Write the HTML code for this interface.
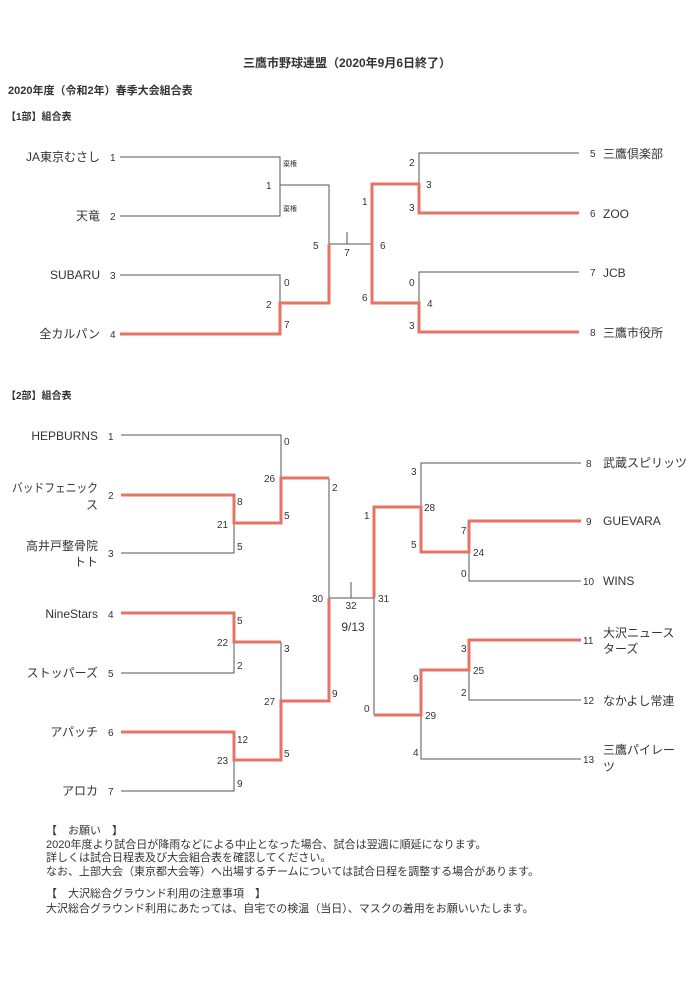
<!DOCTYPE html>
<html><head><meta charset="utf-8"><style>
html,body{margin:0;padding:0;background:#fff;}
svg{display:block}
text{font-family:"Liberation Sans","Noto Sans CJK JP",sans-serif;fill:#333;}
.t{font-size:12px}
.s{font-size:10px}
.b{font-size:11px}
</style></head><body>
<svg width="686" height="981" viewBox="0 0 686 981" xmlns="http://www.w3.org/2000/svg">
<text x="347" y="67" class="t" text-anchor="middle" font-weight="bold">三鷹市野球連盟（2020年9月6日終了）</text>
<text x="8" y="94" class="b" font-weight="bold">2020年度（令和2年）春季大会組合表</text>
<text x="6" y="120" class="s" font-weight="bold">【1部】組合表</text>

<g fill="none" stroke="#555" stroke-width="1">
<polyline points="120,157 280,157 280,216 120,216"/>
<polyline points="280,185 329,185 329,244 372,244"/>
<polyline points="120,275 280,275 280,303"/>
<line x1="347" y1="232" x2="347" y2="244"/>
<polyline points="579,153 419,153 419,184"/>
<polyline points="579,272 419,272 419,303"/>
<polyline points="121,435 281,435 281,478"/>
<polyline points="329,478 329,598 374,598"/>
<polyline points="234,523 234,553 121,553"/>
<polyline points="234,642 234,673 121,673"/>
<polyline points="281,642 281,701"/>
<polyline points="234,760 234,791 121,791"/>
<line x1="351" y1="582" x2="351" y2="598"/>
<polyline points="374,598 374,715"/>
<polyline points="581,463 421,463 421,507"/>
<polyline points="469,552 469,581 581,581"/>
<polyline points="469,670 469,700 581,700"/>
<polyline points="421,715 421,759 581,759"/>
</g>
<g fill="none" stroke="#e57366" stroke-width="3">
<polyline points="120,334 280,334 280,303 329,303 329,244"/>
<polyline points="579,213 419,213 419,184 372,184 372,244 372,303 419,303 419,332 579,332"/>
<polyline points="121,495 234,495 234,523 281,523 281,478 329,478"/>
<polyline points="121,613 234,613 234,642 281,642"/>
<polyline points="121,732 234,732 234,760 281,760 281,701 329,701 329,598"/>
<polyline points="374,598 374,507 421,507 421,552 469,552 469,521 581,521"/>
<polyline points="374,715 421,715 421,670 469,670 469,640 581,640"/>
</g>

<g class="t">
<text x="100" y="161" text-anchor="end" class="t">JA東京むさし</text><text x="110" y="161" class="s">1</text>
<text x="100" y="220" text-anchor="end" class="t">天竜</text><text x="110" y="220" class="s">2</text>
<text x="100" y="279" text-anchor="end" class="t">SUBARU</text><text x="110" y="279" class="s">3</text>
<text x="100" y="338" text-anchor="end" class="t">全カルパン</text><text x="110" y="338" class="s">4</text>
<text x="590" y="157" class="s">5</text><text x="603" y="158" class="t">三鷹倶楽部</text>
<text x="590" y="217" class="s">6</text><text x="603" y="218" class="t">ZOO</text>
<text x="590" y="276" class="s">7</text><text x="603" y="277" class="t">JCB</text>
<text x="590" y="336" class="s">8</text><text x="603" y="337" class="t">三鷹市役所</text>
</g>
<g class="s">
<text x="283" y="166" style="font-size:7px">棄権</text>
<text x="283" y="211" style="font-size:7px">棄権</text>
<text x="266" y="189" class="s">1</text>
<text x="284" y="286" class="s">0</text>
<text x="266" y="308" class="s">2</text>
<text x="284" y="328" class="s">7</text>
<text x="313" y="249" class="s">5</text>
<text x="347" y="256" class="s" text-anchor="middle">7</text>
<text x="380" y="249" class="s">6</text>
<text x="362" y="205" class="s">1</text>
<text x="362" y="301" class="s">6</text>
<text x="409" y="166" class="s">2</text>
<text x="426" y="188" class="s">3</text>
<text x="409" y="211" class="s">3</text>
<text x="409" y="286" class="s">0</text>
<text x="427" y="307" class="s">4</text>
<text x="409" y="329" class="s">3</text>
</g>

<text x="6" y="399" class="s" font-weight="bold">【2部】組合表</text>
<g>
<text x="98" y="440" text-anchor="end" class="t">HEPBURNS</text><text x="108" y="440" class="s">1</text>
<text x="12" y="492" class="t" textLength="86" lengthAdjust="spacingAndGlyphs">バッドフェニック</text><text x="98" y="509" text-anchor="end" class="t">ス</text><text x="108" y="499" class="s">2</text>
<text x="98" y="550" text-anchor="end" class="t">高井戸整骨院</text><text x="98" y="566" text-anchor="end" class="t">トト</text><text x="108" y="557" class="s">3</text>
<text x="98" y="618" text-anchor="end" class="t">NineStars</text><text x="108" y="618" class="s">4</text>
<text x="98" y="677" text-anchor="end" class="t">ストッパーズ</text><text x="108" y="677" class="s">5</text>
<text x="98" y="736" text-anchor="end" class="t">アパッチ</text><text x="108" y="736" class="s">6</text>
<text x="98" y="795" text-anchor="end" class="t">アロカ</text><text x="108" y="795" class="s">7</text>
<text x="586" y="467" class="s">8</text><text x="603" y="467" class="t">武蔵スピリッツ</text>
<text x="586" y="525" class="s">9</text><text x="603" y="525" class="t">GUEVARA</text>
<text x="583" y="585" class="s">10</text><text x="603" y="585" class="t">WINS</text>
<text x="583" y="644" class="s">11</text><text x="603" y="637" class="t">大沢ニュース</text><text x="603" y="653" class="t">ターズ</text>
<text x="583" y="704" class="s">12</text><text x="603" y="705" class="t">なかよし常連</text>
<text x="583" y="763" class="s">13</text><text x="603" y="754" class="t">三鷹パイレー</text><text x="603" y="771" class="t">ツ</text>
</g>
<g class="s">
<text x="284" y="445" class="s">0</text>
<text x="264" y="482" class="s">26</text>
<text x="332" y="491" class="s">2</text>
<text x="237" y="505" class="s">8</text>
<text x="217" y="528" class="s">21</text>
<text x="284" y="519" class="s">5</text>
<text x="237" y="550" class="s">5</text>
<text x="237" y="624" class="s">5</text>
<text x="217" y="646" class="s">22</text>
<text x="284" y="652" class="s">3</text>
<text x="237" y="669" class="s">2</text>
<text x="264" y="705" class="s">27</text>
<text x="332" y="697" class="s">9</text>
<text x="237" y="743" class="s">12</text>
<text x="217" y="764" class="s">23</text>
<text x="284" y="757" class="s">5</text>
<text x="237" y="787" class="s">9</text>
<text x="312" y="602" class="s">30</text>
<text x="351" y="609" class="s" text-anchor="middle">32</text>
<text x="353" y="631" class="t" text-anchor="middle">9/13</text>
<text x="378" y="602" class="s">31</text>
<text x="364" y="519" class="s">1</text>
<text x="364" y="712" class="s">0</text>
<text x="411" y="475" class="s">3</text>
<text x="424" y="511" class="s">28</text>
<text x="411" y="548" class="s">5</text>
<text x="461" y="534" class="s">7</text>
<text x="473" y="556" class="s">24</text>
<text x="461" y="577" class="s">0</text>
<text x="461" y="652" class="s">3</text>
<text x="473" y="674" class="s">25</text>
<text x="461" y="696" class="s">2</text>
<text x="413" y="682" class="s">9</text>
<text x="425" y="719" class="s">29</text>
<text x="413" y="756" class="s">4</text>
</g>
<g class="b">
<text x="46" y="834" class="b">【　お願い　】</text>
<text x="46" y="848" class="b">2020年度より試合日が降雨などによる中止となった場合、試合は翌週に順延になります。</text>
<text x="46" y="861" class="b">詳しくは試合日程表及び大会組合表を確認してください。</text>
<text x="46" y="875" class="b">なお、上部大会（東京都大会等）へ出場するチームについては試合日程を調整する場合があります。</text>
<text x="46" y="897" class="b">【　大沢総合グラウンド利用の注意事項　】</text>
<text x="46" y="912" class="b">大沢総合グラウンド利用にあたっては、自宅での検温（当日）、マスクの着用をお願いいたします。</text>
</g>
</svg>
</body></html>
